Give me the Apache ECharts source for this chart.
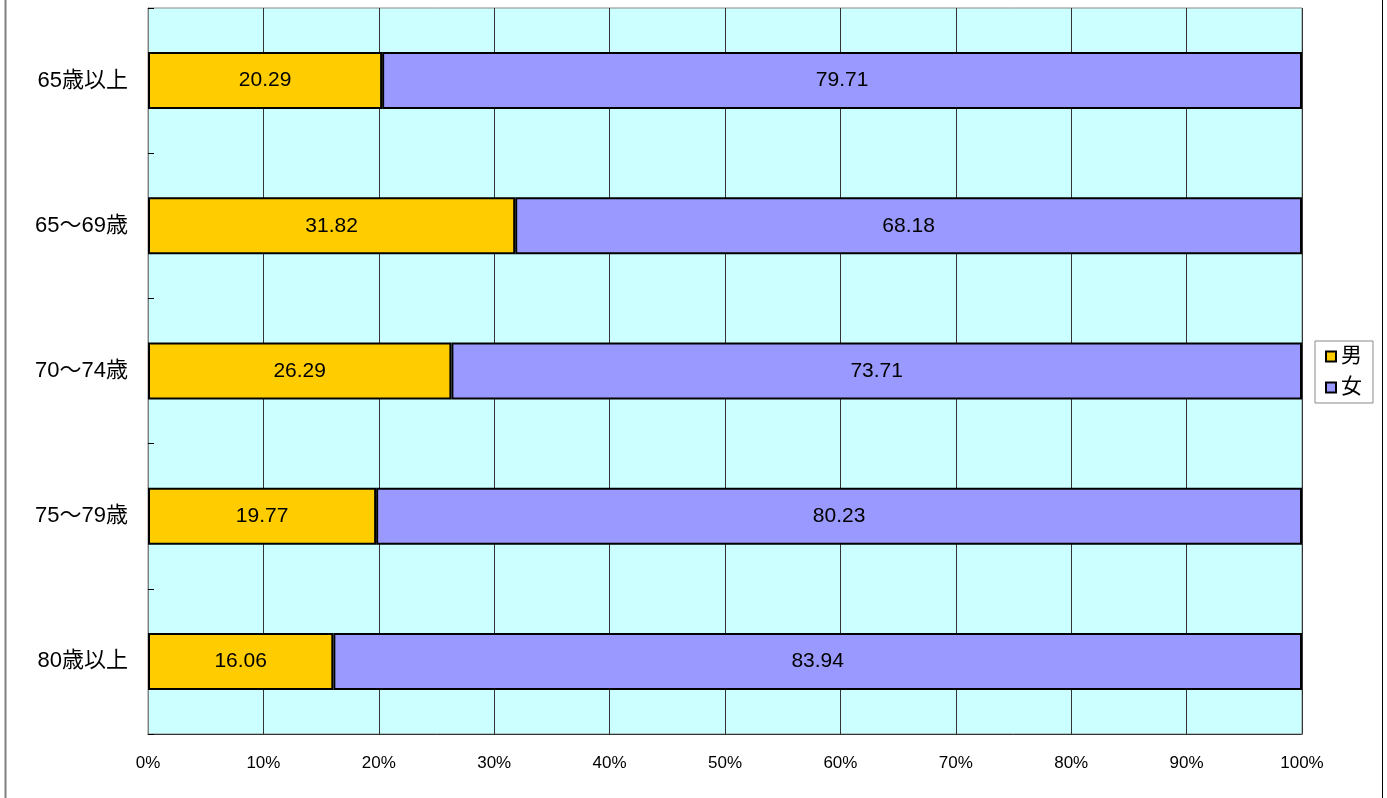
<!DOCTYPE html>
<html><head><meta charset="utf-8">
<script src="https://cdn.jsdelivr.net/npm/echarts@6/dist/echarts.min.js"></script>
<style>html,body{margin:0;padding:0;background:#fff}#c{width:1387px;height:798px}</style>
</head><body><div id="c"></div>
<script>
var categories = ['65歳以上','65～69歳','70～74歳','75～79歳','80歳以上'];
var male = [20.29, 31.82, 26.29, 19.77, 16.06];
var female = [79.71, 68.18, 73.71, 80.23, 83.94];
var seriesNames = ['男','女'];
var FONT = '"Liberation Sans", "Noto Sans CJK JP", sans-serif';
var chart = echarts.init(document.getElementById('c'));
chart.setOption({
  animation: false,
  backgroundColor: '#fff',
  textStyle: {fontFamily: FONT},
  graphic: [
    {type:'line', shape:{x1:5.5,y1:0,x2:5.5,y2:798}, style:{stroke:'#808080', lineWidth:2}},
    {type:'line', shape:{x1:1382.5,y1:0,x2:1382.5,y2:798}, style:{stroke:'#000', lineWidth:1}}
  ],
  grid: {left:148, right:85, top:8, bottom:64, show:true, backgroundColor:'#CCFFFF', borderColor:'#888', borderWidth:1},
  legend: {
    orient:'vertical', left:1315, top:341, data: seriesNames,
    itemWidth:10, itemHeight:10, itemGap:10,
    borderColor:'#888', borderWidth:1, padding:[5,11,5,10],
    textStyle:{fontSize:21, color:'#000', fontFamily:FONT},
    icon:'rect'
  },
  xAxis: {
    type:'value', min:0, max:100, interval:10,
    axisLabel:{formatter:'{value}%', fontSize:17, color:'#000', margin:21, fontFamily:FONT},
    axisLine:{show:true, lineStyle:{color:'#333'}},
    axisTick:{show:false},
    splitLine:{show:true, lineStyle:{color:'#333', width:1}}
  },
  yAxis: {
    type:'category', data: categories, inverse:true,
    axisLabel:{fontSize:22, color:'#000', margin:20, fontFamily:FONT},
    axisLine:{show:true, lineStyle:{color:'#808080'}},
    axisTick:{show:true, inside:true, length:6, lineStyle:{color:'#000'}},
    splitLine:{show:false}
  },
  series: [
    {name: seriesNames[0], type:'bar', stack:'a', data: male, barWidth:57,
     itemStyle:{color:'#FFCC00', borderColor:'#000', borderWidth:2},
     label:{show:true, position:'inside', fontSize:21, color:'#000', fontFamily:FONT, formatter:function(p){return p.value.toFixed(2);}}},
    {name: seriesNames[1], type:'bar', stack:'a', data: female, barWidth:57,
     itemStyle:{color:'#9999FF', borderColor:'#000', borderWidth:2},
     label:{show:true, position:'inside', fontSize:21, color:'#000', fontFamily:FONT, formatter:function(p){return p.value.toFixed(2);}}}
  ]
});
</script></body></html>
